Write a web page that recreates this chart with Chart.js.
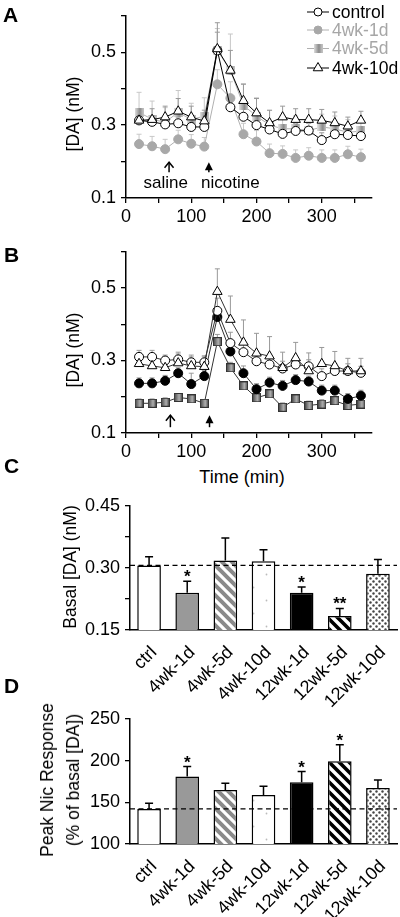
<!DOCTYPE html>
<html>
<head>
<meta charset="UTF-8">
<title>Basal and nicotine-evoked DA</title>
<script src="https://cdn.jsdelivr.net/npm/chart.js"></script>
<style>
    body { margin: 0; background: #fff; font-family: "Liberation Sans", Arial, sans-serif; }
    #wrap { position: relative; width: 400px; height: 917px; overflow: hidden; }
    canvas { position: absolute; left: 0; }
    .lbl { position: absolute; font-weight: bold; font-size: 21px; line-height: 21px; }
    .ytitle { position: absolute; font-size: 17.5px; line-height: 26px; white-space: nowrap; text-align: center;
              transform: translate(-50%, -50%) rotate(-90deg); }
    .xtitle { position: absolute; font-size: 18px; line-height: 18px; white-space: nowrap; transform: translate(-50%, -50%); }
</style>
</head>
<body>
<div id="wrap">
    <canvas id="chartA" width="400" height="232" style="top:0px"></canvas>
    <canvas id="chartB" width="400" height="231" style="top:236px"></canvas>
    <canvas id="chartC" width="400" height="220" style="top:490px"></canvas>
    <canvas id="chartD" width="400" height="214" style="top:703px"></canvas>

    <div class="lbl" style="left:3px; top:4px">A</div>
    <div class="lbl" style="left:4px; top:244px">B</div>
    <div class="lbl" style="left:4px; top:455px">C</div>
    <div class="lbl" style="left:4px; top:675px">D</div>

    <div class="ytitle" style="left:73px; top:114px">[DA] (nM)</div>
    <div class="ytitle" style="left:73px; top:350px">[DA] (nM)</div>
    <div class="xtitle" style="left:242px; top:477px">Time (min)</div>
    <div class="ytitle" style="left:70px; top:567px">Basal [DA] (nM)</div>
    <div class="ytitle" style="left:60px; top:780px">Peak Nic Response<br>(% of basal [DA])</div>
</div>
<script>
    // ---- data ----
    const timeMin = [20, 40, 60, 80, 100, 120, 140, 160, 180, 200, 220, 240, 260, 280, 300, 320, 340, 360];

    // panel A
    const ctrlA   = [0.313, 0.309, 0.302, 0.305, 0.295, 0.295, 0.505, 0.349, 0.323, 0.300, 0.288, 0.276, 0.284, 0.285, 0.259, 0.275, 0.273, 0.270];
    const wk4d1   = [0.248, 0.242, 0.234, 0.261, 0.249, 0.241, 0.412, 0.374, 0.275, 0.255, 0.223, 0.221, 0.210, 0.216, 0.210, 0.210, 0.220, 0.212];
    const wk4d5   = [0.335, 0.316, 0.308, 0.335, 0.315, 0.325, 0.505, 0.450, 0.354, 0.325, 0.300, 0.290, 0.290, 0.285, 0.295, 0.290, 0.280, 0.284];
    const wk4d10  = [0.313, 0.315, 0.322, 0.338, 0.322, 0.311, 0.509, 0.450, 0.367, 0.333, 0.306, 0.322, 0.315, 0.315, 0.313, 0.306, 0.297, 0.313];
    const ctrlAErr  = [0.015, 0.015, 0.015, 0.015, 0.015, 0.015, 0.05, 0.03, 0.025, 0.02, 0.02, 0.02, 0.02, 0.02, 0.02, 0.02, 0.02, 0.02];
    const wk4d1Err  = [0.027, 0.027, 0.027, 0.025, 0.025, 0.025, 0.04, 0.045, 0.03, 0.03, 0.025, 0.022, 0.022, 0.022, 0.022, 0.022, 0.022, 0.022];
    const wk4d5Err  = [0.055, 0.05, 0.04, 0.06, 0.045, 0.05, 0.06, 0.1, 0.06, 0.05, 0.04, 0.035, 0.035, 0.035, 0.035, 0.035, 0.035, 0.03];
    const wk4d10Err = [0.03, 0.03, 0.03, 0.035, 0.03, 0.03, 0.072, 0.055, 0.045, 0.04, 0.035, 0.03, 0.03, 0.03, 0.03, 0.03, 0.025, 0.025];

    // panel B
    const ctrlB   = [0.310, 0.310, 0.300, 0.303, 0.295, 0.295, 0.437, 0.348, 0.323, 0.298, 0.289, 0.278, 0.289, 0.284, 0.257, 0.271, 0.271, 0.266];
    const wk12d1  = [0.237, 0.237, 0.244, 0.265, 0.235, 0.257, 0.420, 0.325, 0.265, 0.221, 0.239, 0.230, 0.246, 0.242, 0.217, 0.217, 0.194, 0.203];
    const wk12d5  = [0.182, 0.182, 0.185, 0.198, 0.194, 0.182, 0.352, 0.280, 0.230, 0.197, 0.208, 0.171, 0.194, 0.176, 0.180, 0.189, 0.176, 0.180];
    const wk12d10 = [0.291, 0.285, 0.280, 0.293, 0.285, 0.283, 0.490, 0.413, 0.350, 0.320, 0.312, 0.280, 0.307, 0.271, 0.291, 0.285, 0.271, 0.271];
    const ctrlBErr   = [0.018, 0.018, 0.015, 0.015, 0.015, 0.015, 0.035, 0.03, 0.025, 0.02, 0.02, 0.02, 0.02, 0.018, 0.02, 0.02, 0.02, 0.018];
    const wk12d1Err  = [0.015, 0.015, 0.015, 0.015, 0.03, 0.015, 0.02, 0.02, 0.02, 0.015, 0.015, 0.015, 0.015, 0.015, 0.015, 0.015, 0.015, 0.015];
    const wk12d5Err  = [0.012, 0.012, 0.012, 0.01, 0.01, 0.01, 0.02, 0.015, 0.012, 0.012, 0.012, 0.012, 0.012, 0.012, 0.012, 0.012, 0.012, 0.012];
    const wk12d10Err = [0.03, 0.03, 0.03, 0.03, 0.03, 0.03, 0.063, 0.065, 0.062, 0.055, 0.054, 0.043, 0.043, 0.05, 0.045, 0.04, 0.035, 0.035];

    // panels C and D
    const groups    = ['ctrl', '4wk-1d', '4wk-5d', '4wk-10d', '12wk-1d', '12wk-5d', '12wk-10d'];
    const basal     = [0.306, 0.240, 0.318, 0.316, 0.240, 0.184, 0.286];
    const basalErr  = [0.021, 0.028, 0.054, 0.028, 0.014, 0.018, 0.034];
    const basalSig  = ['', '*', '', '', '*', '**', ''];
    const peakNic    = [142, 180.8, 164.8, 158.8, 173.9, 199.1, 167.2];
    const peakNicErr = [6.7, 12, 8, 10.3, 12.9, 19.7, 9.6];
    const peakNicSig = ['', '*', '', '', '*', '*', ''];

    // ---- helpers ----
    const FONT = '"Liberation Sans", Arial, sans-serif';
    Chart.defaults.font.family = FONT;
    Chart.defaults.color = '#000';

    function squareMarker(c1, c2, c3, edge) {
        const c = document.createElement('canvas');
        c.width = 9; c.height = 9;
        const g = c.getContext('2d');
        const gr = g.createLinearGradient(0, 0, 9, 0);
        gr.addColorStop(0, c1); gr.addColorStop(0.6, c2); gr.addColorStop(1, c3);
        g.fillStyle = gr;
        g.fillRect(0, 0, 9, 9);
        if (edge) { g.strokeStyle = edge; g.lineWidth = 1; g.strokeRect(0.5, 0.5, 8, 8); }
        return c;
    }
    const sqA = squareMarker('#e4e4e4', '#8a8a8a', '#c8c8c8');
    const sqB = squareMarker('#3a3a3a', '#b0b0b0', '#444', '#333');

    function stripes(fg, bg, size, w) {
        const c = document.createElement('canvas');
        c.width = size; c.height = size;
        const g = c.getContext('2d');
        g.fillStyle = bg; g.fillRect(0, 0, size, size);
        g.strokeStyle = fg; g.lineWidth = w;
        g.beginPath();
        g.moveTo(-2, -2); g.lineTo(size + 2, size + 2);
        g.moveTo(-2, size - 2); g.lineTo(2, size + 2);
        g.moveTo(size - 2, -2); g.lineTo(size + 2, 2);
        g.stroke();
        return g.createPattern(c, 'repeat');
    }
    function dots(color, size, r) {
        const c = document.createElement('canvas');
        c.width = size; c.height = size;
        const g = c.getContext('2d');
        g.fillStyle = '#fff'; g.fillRect(0, 0, size, size);
        g.fillStyle = color;
        g.beginPath(); g.arc(size * 0.25, size * 0.25, r, 0, Math.PI * 2); g.fill();
        g.beginPath(); g.arc(size * 0.75, size * 0.75, r, 0, Math.PI * 2); g.fill();
        return g.createPattern(c, 'repeat');
    }
    const barFills = ['#fff', '#999', stripes('#8a8a8a', '#fff', 10, 4), dots('#bbb', 26, 0.9),
                      '#000', stripes('#000', '#fff', 10, 3.6), dots('#444', 6, 1.2)];

    function pts(arr) { return timeMin.map((t, i) => ({ x: t, y: arr[i] })); }

    const errorBars = {
        id: 'errorBars',
        beforeDatasetsDraw(chart) {
            const ctx = chart.ctx, ys = chart.scales.y;
            chart.data.datasets.forEach((ds, i) => {
                if (!ds.errUp) return;
                const meta = chart.getDatasetMeta(i);
                ctx.save();
                ctx.strokeStyle = ds.errColor || '#000';
                ctx.lineWidth = ds.errWidth || 1;
                meta.data.forEach((el, j) => {
                    const v = typeof ds.data[j] === 'object' ? ds.data[j].y : ds.data[j];
                    const top = ys.getPixelForValue(v + ds.errUp[j]);
                    const cap = ds.capHalf || 2.5;
                    ctx.beginPath();
                    ctx.moveTo(el.x, el.y); ctx.lineTo(el.x, top);
                    ctx.moveTo(el.x - cap, top); ctx.lineTo(el.x + cap, top);
                    ctx.stroke();
                });
                ctx.restore();
            });
        }
    };

    function drawMarker(ctx, m, x, y) {
        ctx.save();
        ctx.lineWidth = 1;
        ctx.fillStyle = m.fill; ctx.strokeStyle = m.stroke;
        if (m.style === 'circle') {
            ctx.beginPath(); ctx.arc(x, y, m.r, 0, Math.PI * 2); ctx.fill(); ctx.stroke();
        } else if (m.style === 'triangle') {
            ctx.beginPath();
            ctx.moveTo(x, y - m.r);
            ctx.lineTo(x + m.r * 0.866, y + m.r / 2);
            ctx.lineTo(x - m.r * 0.866, y + m.r / 2);
            ctx.closePath(); ctx.fill(); ctx.stroke();
        } else {
            ctx.drawImage(m.style, x - m.style.width / 2, y - m.style.height / 2);
        }
        ctx.restore();
    }

    const miniLegend = {
        id: 'miniLegend',
        afterDraw(chart, args, opts) {
            const ctx = chart.ctx;
            ctx.save();
            ctx.font = '17.5px ' + FONT;
            ctx.textBaseline = 'middle';
            opts.entries.forEach((e, i) => {
                const y = opts.ys[i];
                ctx.strokeStyle = e.line; ctx.lineWidth = 1;
                ctx.beginPath(); ctx.moveTo(opts.x0, y); ctx.lineTo(opts.x1, y); ctx.stroke();
                drawMarker(ctx, e.marker, (opts.x0 + opts.x1) / 2, y);
                ctx.fillStyle = e.color;
                ctx.fillText(e.text, opts.tx, y + 1);
            });
            ctx.restore();
        }
    };

    const arrows = {
        id: 'arrows',
        afterDatasetsDraw(chart, args, opts) {
            const ctx = chart.ctx, xs = chart.scales.x, ys = chart.scales.y;
            ctx.save();
            ctx.strokeStyle = '#000'; ctx.fillStyle = '#000'; ctx.lineWidth = 1.5;
            const y0 = ys.getPixelForValue(opts.from), y1 = ys.getPixelForValue(opts.to);
            opts.items.forEach(a => {
                const x = xs.getPixelForValue(a.t);
                ctx.beginPath(); ctx.moveTo(x, y0); ctx.lineTo(x, y1 + (a.open ? 0 : 5)); ctx.stroke();
                ctx.beginPath();
                if (a.open) {
                    ctx.moveTo(x - 4.5, y1 + 5.5); ctx.lineTo(x, y1); ctx.lineTo(x + 4.5, y1 + 5.5); ctx.stroke();
                } else {
                    ctx.moveTo(x - 4, y1 + 8); ctx.lineTo(x, y1); ctx.lineTo(x + 4, y1 + 8); ctx.closePath(); ctx.fill();
                }
            });
            ctx.font = '17px ' + FONT;
            ctx.textAlign = 'center'; ctx.textBaseline = 'middle';
            (opts.texts || []).forEach(t => ctx.fillText(t.s, xs.getPixelForValue(t.t), ys.getPixelForValue(t.v)));
            ctx.restore();
        }
    };

    const barExtras = {
        id: 'barExtras',
        afterDatasetsDraw(chart, args, opts) {
            const ctx = chart.ctx, ys = chart.scales.y, area = chart.chartArea;
            const ds = chart.data.datasets[0], meta = chart.getDatasetMeta(0);
            const yRef = ys.getPixelForValue(ds.data[0]);
            ctx.save();
            ctx.setLineDash([5, 3.5]); ctx.lineWidth = 1.3; ctx.strokeStyle = '#000';
            ctx.beginPath(); ctx.moveTo(area.left, yRef); ctx.lineTo(area.right, yRef); ctx.stroke();
            ctx.setLineDash([]);
            ctx.font = 'bold 17px ' + FONT;
            ctx.textAlign = 'center'; ctx.fillStyle = '#000';
            meta.data.forEach((bar, j) => {
                if (!opts.stars[j]) return;
                const top = ys.getPixelForValue(ds.data[j] + ds.errUp[j]);
                ctx.fillText(opts.stars[j], bar.x, top + 1);
            });
            ctx.restore();
        }
    };

    const axisGrid = { drawOnChartArea: false, tickLength: 5, color: '#000', lineWidth: 1.3 };
    const axisBorder = { color: '#000', width: 1.5 };

    function lineOptions(legend, arrowCfg) {
        return {
            responsive: false,
            animation: false,
            layout: { padding: { left: 0, top: 13, right: 28, bottom: 0 } },
            plugins: { legend: { display: false }, tooltip: { enabled: false }, miniLegend: legend, arrows: arrowCfg },
            scales: {
                x: {
                    type: 'linear', min: 0, max: 377,
                    ticks: { stepSize: 50, includeBounds: false, autoSkip: false, maxRotation: 0, padding: 3,
                             font: { size: 18 }, callback: v => (v % 100 === 0 ? String(v) : '') },
                    grid: axisGrid, border: axisBorder,
                    afterFit: s => { s.height = 34; }
                },
                y: {
                    min: 0.1, max: 0.6,
                    ticks: { stepSize: 0.1, padding: 5, font: { size: 18 },
                             callback: v => (Math.round(v * 10) % 2 === 1 ? v.toFixed(1) : '') },
                    grid: axisGrid, border: axisBorder,
                    afterFit: s => { s.width = 126; }
                }
            }
        };
    }

    function lineSet(label, arr, err, o) {
        return Object.assign({
            label: label, data: pts(arr), errUp: err,
            borderWidth: 1, pointBorderWidth: 1, pointRadius: 4.5, pointHoverRadius: 4.5, tension: 0
        }, o);
    }

    // ---- panel A ----
    new Chart(document.getElementById('chartA'), {
        type: 'line',
        data: {
            datasets: [
                lineSet('control', ctrlA, ctrlAErr, { borderColor: '#000', pointStyle: 'circle', pointBackgroundColor: '#fff', pointBorderColor: '#000', order: 1, errColor: '#999' }),
                lineSet('4wk-1d', wk4d1, wk4d1Err, { borderColor: '#b0b0b0', pointStyle: 'circle', pointBackgroundColor: '#a8a8a8', pointBorderColor: '#a8a8a8', order: 3, errColor: '#c8c8c8' }),
                lineSet('4wk-5d', wk4d5, wk4d5Err, { borderColor: '#b0b0b0', pointStyle: sqA, order: 2, errColor: '#c8c8c8' }),
                lineSet('4wk-10d', wk4d10, wk4d10Err, { borderColor: '#000', pointStyle: 'triangle', pointRadius: 5.5, pointHoverRadius: 5.5, pointBackgroundColor: '#fff', pointBorderColor: '#000', order: 0, errColor: '#999' })
            ]
        },
        options: lineOptions({
            x0: 307, x1: 329, tx: 332, ys: [12, 30, 48.5, 68],
            entries: [
                { text: 'control', color: '#000', line: '#000', marker: { style: 'circle', r: 4, fill: '#fff', stroke: '#000' } },
                { text: '4wk-1d', color: '#a6a6a6', line: '#b0b0b0', marker: { style: 'circle', r: 4, fill: '#a8a8a8', stroke: '#a8a8a8' } },
                { text: '4wk-5d', color: '#a6a6a6', line: '#b0b0b0', marker: { style: sqA } },
                { text: '4wk-10d', color: '#000', line: '#000', marker: { style: 'triangle', r: 5.5, fill: '#fff', stroke: '#000' } }
            ]
        }, {
            from: 0.171, to: 0.198,
            items: [{ t: 66, open: true }, { t: 127, open: false }],
            texts: [{ s: 'saline', t: 61, v: 0.141 }, { s: 'nicotine', t: 160, v: 0.141 }]
        }),
        plugins: [errorBars, miniLegend, arrows]
    });

    // ---- panel B ----
    new Chart(document.getElementById('chartB'), {
        type: 'line',
        data: {
            datasets: [
                lineSet('control', ctrlB, ctrlBErr, { borderColor: '#333', pointStyle: 'circle', pointBackgroundColor: '#fff', pointBorderColor: '#000', order: 1, errColor: '#999' }),
                lineSet('12wk-1d', wk12d1, wk12d1Err, { borderColor: '#333', pointStyle: 'circle', pointBackgroundColor: '#000', pointBorderColor: '#000', order: 2, errColor: '#999' }),
                lineSet('12wk-5d', wk12d5, wk12d5Err, { borderColor: '#333', pointStyle: sqB, order: 3, errColor: '#999' }),
                lineSet('12wk-10d', wk12d10, wk12d10Err, { borderColor: '#333', pointStyle: 'triangle', pointRadius: 5.5, pointHoverRadius: 5.5, pointBackgroundColor: '#fff', pointBorderColor: '#000', order: 0, errColor: '#999' })
            ]
        },
        options: lineOptions({
            x0: 295, x1: 315, tx: 321, ys: [252, 270.5, 289.5, 308.5],
            entries: [
                { text: 'control', color: '#000', line: '#555', marker: { style: 'circle', r: 4, fill: '#fff', stroke: '#000' } },
                { text: '12wk-1d', color: '#000', line: '#000', marker: { style: 'circle', r: 4, fill: '#000', stroke: '#000' } },
                { text: '12wk-5d', color: '#000', line: '#555', marker: { style: sqB } },
                { text: '12wk-10d', color: '#000', line: '#555', marker: { style: 'triangle', r: 5.5, fill: '#fff', stroke: '#000' } }
            ]
        }, {
            from: 0.116, to: 0.149,
            items: [{ t: 68, open: true }, { t: 128, open: false }]
        }),
        plugins: [errorBars, miniLegend, arrows]
    });

    // ---- panels C and D ----
    function barChart(id, values, errs, stars, yMin, yMax, step, fmt, axisH) {
        return new Chart(document.getElementById(id), {
            type: 'bar',
            data: {
                labels: groups,
                datasets: [{
                    data: values, errUp: errs, errColor: '#000', errWidth: 1.5, capHalf: 4,
                    backgroundColor: barFills, borderColor: '#000', borderWidth: 1.5, borderSkipped: false,
                    barPercentage: 0.62, categoryPercentage: 1
                }]
            },
            options: {
                responsive: false,
                animation: false,
                layout: { padding: { left: 0, top: 15, right: 3, bottom: 0 } },
                plugins: { legend: { display: false }, tooltip: { enabled: false }, barExtras: { stars: stars } },
                scales: {
                    x: {
                        ticks: { minRotation: 45, maxRotation: 45, autoSkip: false, padding: 4, labelOffset: 5, font: { size: 18 } },
                        grid: { display: false }, border: axisBorder,
                        afterFit: s => { s.height = axisH; }
                    },
                    y: {
                        min: yMin, max: yMax,
                        ticks: { stepSize: step, padding: 5, font: { size: 18 }, callback: fmt },
                        grid: axisGrid, border: axisBorder,
                        afterFit: s => { s.width = 130; }
                    }
                }
            },
            plugins: [errorBars, barExtras]
        });
    }

    barChart('chartC', basal, basalErr, basalSig, 0.15, 0.45, 0.075, (v, i) => (i % 2 === 0 ? v.toFixed(2) : ''), 80);
    barChart('chartD', peakNic, peakNicErr, peakNicSig, 100, 250, 25, v => (v % 50 === 0 ? String(v) : ''), 73);
</script>
</body>
</html>
